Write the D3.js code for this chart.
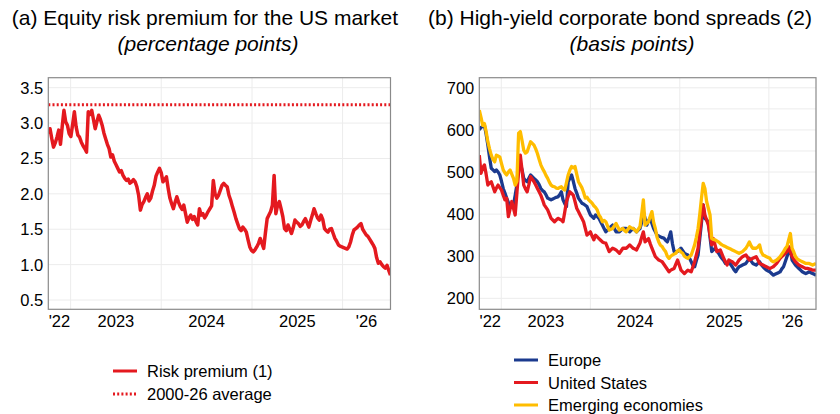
<!DOCTYPE html>
<html>
<head>
<meta charset="utf-8">
<script src="https://cdn.jsdelivr.net/npm/d3@7"></script>
<style>
  body { margin: 0; background: #fff; }
  text { font-family: "Liberation Sans", Arial, sans-serif; fill: #000; }
</style>
</head>
<body>
<svg id="chart" width="840" height="414"></svg>
<script>
// weekly observations, first one on 3 Oct 2022
var startDate = new Date(2022, 9, 3);

// (a) equity risk premium, percentage points
var premium = [
  2.85, 2.92, 2.78, 2.66, 2.72, 2.80, 2.90, 2.70, 2.95, 3.18,
  3.02, 2.97, 2.85, 2.81, 2.98, 3.16, 2.95, 2.83, 2.80, 2.73,
  2.68, 2.64, 2.59, 3.16, 3.12, 3.18, 3.05, 2.92, 3.02, 3.11,
  3.05, 2.97, 2.86, 2.78, 2.70, 2.64, 2.52, 2.55, 2.46, 2.41,
  2.36, 2.31, 2.33, 2.26, 2.22, 2.19, 2.21, 2.15, 2.17, 2.20,
  2.17, 2.10, 1.98, 1.77, 1.85, 1.89, 1.95, 2.00, 1.90, 1.94,
  2.04, 2.12, 2.25, 2.31, 2.36, 2.30, 2.17, 2.20, 2.24, 2.08,
  1.94, 1.86, 1.79, 1.88, 1.96, 1.88, 1.82, 1.78, 1.84, 1.72,
  1.60, 1.66, 1.70, 1.64, 1.68, 1.61, 1.56, 1.79, 1.70, 1.72,
  1.66, 1.70, 1.75, 1.79, 1.83, 2.19, 2.00, 1.94, 1.98, 2.05,
  2.12, 2.15, 2.12, 2.10, 1.98, 1.91, 1.82, 1.74, 1.65, 1.58,
  1.51, 1.48, 1.53, 1.50, 1.46, 1.35, 1.25, 1.20, 1.18, 1.21,
  1.25, 1.30, 1.37, 1.30, 1.23, 1.45, 1.65, 1.70, 1.75, 1.84,
  2.26, 1.72, 1.84, 1.89, 1.79, 1.68, 1.51, 1.48, 1.56, 1.50,
  1.44, 1.52, 1.63, 1.60, 1.58, 1.54, 1.56, 1.61, 1.65, 1.59,
  1.53, 1.62, 1.70, 1.79, 1.72, 1.66, 1.63, 1.70, 1.64, 1.51,
  1.48, 1.46, 1.50, 1.51, 1.44, 1.37, 1.33, 1.28, 1.26, 1.25,
  1.24, 1.23, 1.22, 1.25, 1.32, 1.42, 1.49, 1.51, 1.53, 1.56,
  1.58, 1.50, 1.46, 1.42, 1.40, 1.36, 1.32, 1.28, 1.23, 1.10,
  1.02, 1.04, 1.00, 0.97, 0.95, 0.99, 0.92, 0.85
];
var premiumAverage = 3.26;

// (b) high-yield spreads, basis points
var europe = [
  600, 606, 608, 611, 590, 564, 535, 509, 505, 501,
  505, 500, 493, 478, 461, 450, 438, 428, 418, 420,
  422, 445, 470, 524, 521, 505, 485, 480, 477, 485,
  493, 489, 485, 481, 477, 470, 461, 456, 453, 446,
  438, 436, 434, 436, 438, 440, 441, 446, 453, 434,
  425, 418, 477, 485, 493, 478, 461, 450, 438, 432,
  426, 424, 421, 418, 408, 398, 394, 390, 398, 394,
  390, 382, 374, 366, 358, 362, 366, 370, 374, 366,
  358, 358, 358, 362, 366, 366, 366, 362, 358, 362,
  366, 362, 358, 362, 366, 380, 406, 390, 374, 385,
  390, 378, 366, 358, 350, 348, 346, 344, 343, 338,
  334, 345, 358, 330, 311, 311, 311, 315, 319, 313,
  307, 305, 303, 295, 287, 278, 275, 290, 303, 342,
  380, 422, 390, 386, 382, 345, 311, 315, 319, 313,
  307, 300, 295, 290, 283, 285, 287, 281, 275, 268,
  263, 270, 275, 277, 279, 281, 283, 289, 295, 289,
  283, 281, 279, 283, 287, 280, 275, 271, 267, 265,
  263, 259, 255, 257, 259, 261, 263, 270, 275, 287,
  299, 310, 319, 291, 285, 279, 275, 271, 267, 263,
  261, 259, 261, 263, 261, 259, 257, 255
];
var unitedStates = [
  540, 497, 510, 517, 495, 469, 474, 477, 465, 453,
  462, 469, 463, 457, 445, 434, 438, 394, 412, 430,
  414, 398, 450, 501, 540, 505, 469, 460, 453, 470,
  489, 483, 477, 469, 461, 453, 445, 434, 422, 416,
  410, 400, 390, 386, 382, 386, 390, 388, 386, 382,
  405, 430, 442, 453, 449, 445, 430, 414, 406, 398,
  390, 382, 366, 350, 354, 358, 348, 339, 350, 346,
  342, 338, 334, 332, 331, 321, 311, 315, 319, 317,
  315, 311, 307, 313, 319, 319, 319, 323, 327, 323,
  319, 317, 315, 323, 331, 345, 358, 334, 338, 342,
  330, 319, 309, 299, 295, 291, 289, 287, 281, 275,
  269, 263, 267, 269, 271, 281, 291, 279, 267, 263,
  259, 263, 267, 265, 263, 275, 287, 303, 319, 355,
  390, 422, 398, 386, 374, 350, 327, 342, 326, 311,
  313, 315, 305, 295, 287, 279, 291, 289, 287, 283,
  279, 285, 291, 295, 299, 301, 303, 297, 291, 293,
  295, 297, 299, 291, 283, 281, 279, 277, 275, 273,
  271, 273, 275, 279, 283, 289, 295, 299, 303, 307,
  311, 323, 310, 299, 293, 287, 283, 279, 277, 275,
  273, 271, 271, 270, 269, 267, 267, 267
];
var emerging = [
  647, 630, 611, 615, 596, 572, 555, 540, 530, 524,
  540, 538, 536, 520, 505, 498, 493, 500, 505, 495,
  485, 469, 478, 592, 596, 575, 552, 545, 548, 560,
  572, 568, 564, 555, 544, 530, 517, 508, 501, 492,
  485, 476, 469, 466, 465, 462, 461, 463, 465, 460,
  457, 475, 493, 505, 513, 510, 513, 495, 477, 470,
  463, 452, 438, 440, 434, 430, 426, 420, 416, 410,
  398, 392, 382, 385, 382, 372, 362, 364, 366, 372,
  378, 370, 362, 364, 366, 361, 358, 364, 370, 367,
  366, 362, 358, 364, 370, 400, 434, 374, 378, 382,
  395, 406, 380, 366, 345, 334, 326, 323, 316, 311,
  300, 295, 300, 303, 305, 307, 313, 315, 310, 307,
  300, 297, 295, 299, 303, 315, 327, 345, 366, 400,
  438, 473, 461, 430, 414, 398, 342, 340, 339, 336,
  334, 330, 327, 325, 323, 321, 319, 317, 315, 313,
  311, 309, 307, 309, 311, 315, 319, 326, 334, 325,
  319, 319, 319, 322, 327, 310, 303, 301, 299, 297,
  295, 289, 287, 289, 291, 295, 299, 305, 311, 318,
  323, 339, 354, 319, 310, 299, 294, 291, 289, 287,
  285, 283, 283, 283, 281, 279, 281, 283
];

var premiumTicks = [0.5, 1.0, 1.5, 2.0, 2.5, 3.0, 3.5];
var spreadTicks = [200, 300, 400, 500, 600, 700];
var spreadGrid = [200, 250, 300, 350, 400, 450, 500, 550, 600, 650, 700];
var yearLabels = ["'22", "2023", "2024", "2025", "'26"];
var yearStarts = [new Date(2023, 0, 1), new Date(2024, 0, 1), new Date(2025, 0, 1), new Date(2026, 0, 1)];

var dates = premium.map(function(d, i) { return d3.timeDay.offset(startDate, 7 * i); });
var endDate = dates[dates.length - 1];

var colors = { red: "#e4191f", blue: "#1b3a8e", yellow: "#ffbd00", frame: "#8a8a8a", grid: "#ececec" };

var svg = d3.select("#chart");

function panel(cfg) {
  var g = svg.append("g");
  var x = d3.scaleTime().domain([startDate, endDate]).range([cfg.left, cfg.right]);
  var y = d3.scaleLinear().domain(cfg.yDomain).range([309.3, 77.7]);

  g.append("clipPath").attr("id", cfg.id)
    .append("rect").attr("x", cfg.left).attr("y", 77.7)
    .attr("width", cfg.right - cfg.left).attr("height", 309.3 - 77.7);

  // grid
  g.selectAll(".hg").data(cfg.grid).enter().append("line")
    .attr("x1", cfg.left).attr("x2", cfg.right)
    .attr("y1", function(d) { return y(d); }).attr("y2", function(d) { return y(d); })
    .attr("stroke", colors.grid).attr("stroke-width", 1);
  g.selectAll(".vg").data(yearStarts).enter().append("line")
    .attr("x1", function(d) { return x(d); }).attr("x2", function(d) { return x(d); })
    .attr("y1", 77.7).attr("y2", 309.3)
    .attr("stroke", colors.grid).attr("stroke-width", 1);

  // y labels
  g.selectAll(".yl").data(cfg.ticks).enter().append("text")
    .attr("x", cfg.left - 5).attr("y", function(d) { return y(d); })
    .attr("dy", "0.36em").attr("text-anchor", "end")
    .style("font-size", "16.5px")
    .text(function(d) { return cfg.fmt(d); });

  // x labels, centred in each year band
  var bounds = [startDate].concat(yearStarts).concat([endDate]);
  g.selectAll(".xl").data(yearLabels).enter().append("text")
    .attr("x", function(d, i) { return (x(bounds[i]) + x(bounds[i + 1])) / 2; })
    .attr("y", 327).attr("text-anchor", "middle")
    .style("font-size", "16.5px")
    .text(function(d) { return d; });

  var plot = g.append("g").attr("clip-path", "url(#" + cfg.id + ")");
  cfg.series.forEach(function(s) {
    var line = d3.line()
      .x(function(d, i) { return x(dates[i]); })
      .y(function(d) { return y(d); });
    plot.append("path").datum(s.values)
      .attr("d", line)
      .attr("fill", "none").attr("stroke", s.color)
      .attr("stroke-width", s.width || 3.3).attr("stroke-linejoin", "round")
      .attr("stroke-dasharray", s.dash || null);
  });

  g.append("rect")
    .attr("x", cfg.left).attr("y", 77.7)
    .attr("width", cfg.right - cfg.left).attr("height", 309.3 - 77.7)
    .attr("fill", "none").attr("stroke", colors.frame).attr("stroke-width", 1.2);

  // titles
  svg.append("text").attr("x", cfg.titleX).attr("y", 25).attr("text-anchor", "middle")
    .style("font-size", "21px").text(cfg.title);
  svg.append("text").attr("x", cfg.subX).attr("y", 51).attr("text-anchor", "middle")
    .style("font-size", "21px").style("font-style", "italic").text(cfg.subtitle);

  // legend
  var lg = svg.append("g");
  cfg.legend.forEach(function(l) {
    lg.append("line").attr("x1", l.x).attr("x2", l.x + 24)
      .attr("y1", l.y).attr("y2", l.y)
      .attr("stroke", l.color).attr("stroke-width", 3)
      .attr("stroke-dasharray", l.dash || null);
    lg.append("text").attr("x", l.x + 34).attr("y", l.y + 6)
      .style("font-size", "16.5px").text(l.label);
  });
}

var averageLine = premium.map(function() { return premiumAverage; });

panel({
  id: "clipA", left: 48.3, right: 390.5, yDomain: [0.369, 3.641],
  grid: premiumTicks, ticks: premiumTicks, fmt: d3.format(".1f"),
  title: "(a) Equity risk premium for the US market", titleX: 205,
  subtitle: "(percentage points)", subX: 208,
  series: [
    { values: averageLine, color: colors.red, dash: "2,2.2", width: 3 },
    { values: premium, color: colors.red, width: 3.5 }
  ],
  legend: [
    { label: "Risk premium (1)", color: colors.red, x: 113, y: 371 },
    { label: "2000-26 average", color: colors.red, x: 113, y: 394, dash: "2,2.2" }
  ]
});

panel({
  id: "clipB", left: 479.3, right: 816, yDomain: [174, 724],
  grid: spreadGrid, ticks: spreadTicks, fmt: d3.format("d"),
  title: "(b) High-yield corporate bond spreads (2)", titleX: 620,
  subtitle: "(basis points)", subX: 632,
  series: [
    { values: europe, color: colors.blue },
    { values: unitedStates, color: colors.red },
    { values: emerging, color: colors.yellow }
  ],
  legend: [
    { label: "Europe", color: colors.blue, x: 514, y: 360 },
    { label: "United States", color: colors.red, x: 514, y: 382.5 },
    { label: "Emerging economies", color: colors.yellow, x: 514, y: 405 }
  ]
});
</script>
</body>
</html>
